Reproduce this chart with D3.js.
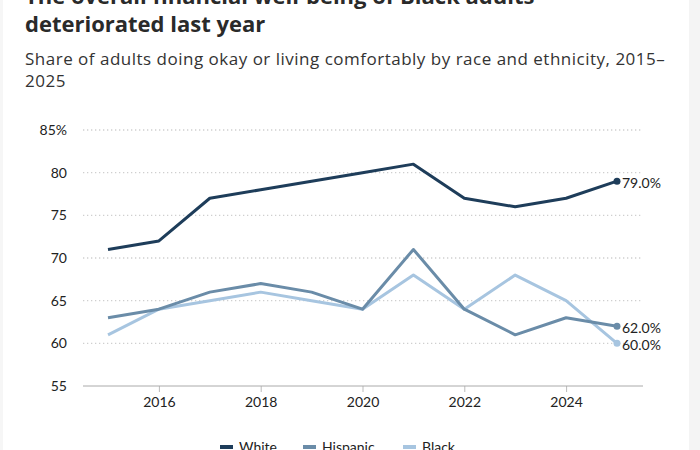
<!DOCTYPE html>
<html>
<head>
<meta charset="utf-8">
<script src="https://cdn.jsdelivr.net/npm/d3@7"></script>
<style>
    body { margin: 0; background: #fff; }
    #chart { width: 700px; height: 450px; }
    text { font-family: Lato, "Open Sans", sans-serif; fill: #222; }
</style>
</head>
<body>
<div id="chart"></div>
<script>
const years = [2015, 2016, 2017, 2018, 2019, 2020, 2021, 2022, 2023, 2024, 2025]
const white = [71, 72, 77, 78, 79, 80, 81, 77, 76, 77, 79]
const hispanic = [63, 64, 66, 67, 66, 64, 71, 64, 61, 63, 62]
const black = [61, 64, 65, 66, 65, 64, 68, 64, 68, 65, 60]
const yTicks = [55, 60, 65, 70, 75, 80, 85]
const xTicks = [2016, 2018, 2020, 2022, 2024]

const series = [
    { name: "White", values: white, color: "#1e3d5a" },
    { name: "Hispanic", values: hispanic, color: "#6a8ca8" },
    { name: "Black", values: black, color: "#a7c5e0" }
]

const width = 700, height = 450

const svg = d3.select("#chart").append("svg")
    .attr("width", width)
    .attr("height", height)

// page edges
svg.append("rect").attr("x", 689).attr("y", 0).attr("width", 11).attr("height", height).attr("fill", "#f4f4f4")
svg.append("rect").attr("x", 0).attr("y", 0).attr("width", 3).attr("height", height).attr("fill", "#f6f6f6")

// title + subtitle
const title = svg.append("text").attr("font-size", 22).attr("font-weight", 700)
    .style("font-family", "'Open Sans', sans-serif").style("fill", "#2a2a2a")
title.append("tspan").attr("x", 25).attr("y", 4).text("The overall financial well-being of Black adults")
title.append("tspan").attr("x", 25).attr("y", 32).text("deteriorated last year")

const sub = svg.append("text").attr("font-size", 17)
    .style("font-family", "'Open Sans', sans-serif").style("fill", "#333")
    .style("letter-spacing", "0.5px")
sub.append("tspan").attr("x", 25).attr("y", 65).text("Share of adults doing okay or living comfortably by race and ethnicity, 2015–")
sub.append("tspan").attr("x", 25).attr("y", 87).text("2025")

const x = d3.scaleLinear().domain([2015, 2025]).range([108, 617])
const y = d3.scaleLinear().domain([55, 85]).range([386, 130])

// gridlines
svg.append("g")
    .selectAll("line")
    .data(yTicks.filter(d => d > 55))
    .join("line")
    .attr("x1", 83).attr("x2", 643)
    .attr("y1", d => y(d)).attr("y2", d => y(d))
    .attr("stroke", "#cfcfcf")
    .attr("stroke-width", 1.3)
    .attr("stroke-dasharray", "1.3,2.7")

// y labels
svg.append("g")
    .selectAll("text")
    .data(yTicks)
    .join("text")
    .attr("x", 67)
    .attr("y", d => y(d))
    .attr("dy", "0.36em")
    .attr("text-anchor", "end")
    .attr("font-size", 14)
    .text(d => d == 85 ? d + "%" : d)

// x axis
const xAxis = svg.append("g")
    .attr("transform", `translate(0,${y(55)})`)
    .call(d3.axisBottom(x).tickValues(xTicks).tickFormat(d3.format("d")).tickSize(6).tickPadding(5))
xAxis.select(".domain").remove()
xAxis.selectAll(".tick line").attr("stroke", "#bbb")
xAxis.selectAll(".tick text").attr("font-size", 14).attr("font-family", "Lato, 'Open Sans', sans-serif").attr("fill", "#222")
svg.append("line")
    .attr("x1", 83).attr("x2", 643)
    .attr("y1", y(55)).attr("y2", y(55))
    .attr("stroke", "#aaa")

// lines
const line = d3.line()
    .x((d, i) => x(years[i]))
    .y(d => y(d))

svg.append("g")
    .selectAll("path")
    .data(series.slice().reverse())
    .join("path")
    .attr("d", d => line(d.values))
    .attr("fill", "none")
    .attr("stroke", d => d.color)
    .attr("stroke-width", 3)
    .attr("stroke-linejoin", "round")

// end dots + labels
const last = years.length - 1
const ends = svg.append("g")
    .selectAll("g")
    .data(series)
    .join("g")
    .attr("transform", d => `translate(${x(years[last])},${y(d.values[last])})`)
ends.append("circle").attr("r", 3.5).attr("fill", d => d.color)
ends.append("text")
    .attr("x", 5)
    .attr("dy", "0.45em")
    .attr("font-size", 14)
    .text(d => d.values[last].toFixed(1) + "%")

// legend
const legendX = [220, 303, 403]
const legend = svg.append("g")
    .selectAll("g")
    .data(series)
    .join("g")
    .attr("transform", (d, i) => `translate(${legendX[i]},447)`)
legend.append("rect").attr("y", -2).attr("width", 13).attr("height", 4).attr("fill", d => d.color)
legend.append("text")
    .attr("x", 19)
    .attr("y", 5)
    .attr("font-size", 14)
    .text(d => d.name)
</script>
</body>
</html>
